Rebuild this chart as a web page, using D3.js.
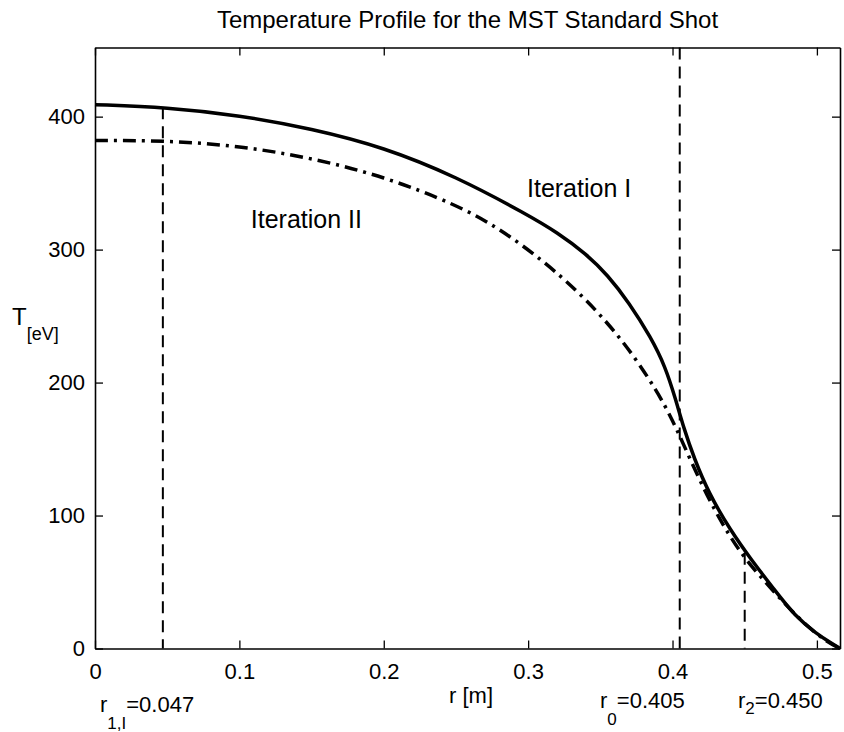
<!DOCTYPE html>
<html>
<head>
<meta charset="utf-8">
<script src="https://cdn.jsdelivr.net/npm/d3@7"></script>
<style>
    body { margin: 0; background: #fff; }
    #chart-area { width: 844px; height: 732px; }
    text { font-family: "Liberation Sans", Arial, Helvetica, sans-serif; fill: #000; }
</style>
</head>
<body>
<div id="chart-area"></div>
<script>
// radius values [m] and temperatures [eV]
const radiusI = [0, 0.05, 0.1, 0.15, 0.2, 0.25, 0.3, 0.32, 0.34, 0.355, 0.37, 0.385, 0.395, 0.402, 0.408, 0.415, 0.425, 0.44, 0.455, 0.47, 0.485, 0.5, 0.51, 0.516];
const tempI   = [409, 407, 401, 391, 377, 355, 326, 313, 297, 281, 260, 234, 212, 188, 165, 143, 117, 89, 66, 45, 24, 11, 4, 0];

const radiusII = [0, 0.05, 0.1, 0.15, 0.2, 0.25, 0.28, 0.31, 0.335, 0.355, 0.372, 0.389, 0.399, 0.407, 0.419, 0.432, 0.448, 0.465, 0.48, 0.495, 0.507, 0.516];
const tempII   = [382, 382, 378, 369, 355, 334, 316, 292, 268, 245, 222, 194, 174, 155, 126, 98, 70, 49, 31, 15, 5, 0];

// vertical marker lines: position and upper end [eV]
const markerR   = [0.047, 0.405, 0.450];
const markerTop = [407, 452, 72];
const markerBase = ["r", "r", "r"];
const markerSub  = ["1,I", "0", "2"];
const markerVal  = ["=0.047", "=0.405", "=0.450"];

const xTicks = [0, 0.1, 0.2, 0.3, 0.4, 0.5];
const yTicks = [0, 100, 200, 300, 400];
const xDomain = [0, 0.516];
const yDomain = [0, 452];

class ProfileVis {

    constructor(parentElement) {
        this.parentElement = parentElement;
        this.initVis();
    }

    initVis() {
        let vis = this;

        vis.margin = {top: 47.5, right: 4, bottom: 83.5, left: 95};
        vis.totalW = 844;
        vis.totalH = 732;
        vis.width = vis.totalW - vis.margin.left - vis.margin.right;
        vis.height = vis.totalH - vis.margin.top - vis.margin.bottom;

        vis.root = d3.select("#" + vis.parentElement).append("svg")
            .attr("width", vis.totalW)
            .attr("height", vis.totalH);

        vis.svg = vis.root.append("g")
            .attr("transform", `translate(${vis.margin.left}, ${vis.margin.top})`);

        vis.x = d3.scaleLinear().domain(xDomain).range([0, vis.width]);
        vis.y = d3.scaleLinear().domain(yDomain).range([vis.height, 0]);

        vis.line = d3.line()
            .x(d => vis.x(d[0]))
            .y(d => vis.y(d[1]))
            .curve(d3.curveBasis);

        vis.updateVis();
    }

    updateVis() {
        let vis = this;
        const tickFmt = d => d === 0 ? "0" : d3.format(".1f")(d);

        // box with inward ticks on all four sides
        const axes = [
            d3.axisBottom(vis.x).tickValues(xTicks).tickFormat(tickFmt).tickSizeInner(-8).tickSizeOuter(0).tickPadding(15),
            d3.axisTop(vis.x).tickValues(xTicks).tickFormat("").tickSizeInner(-8).tickSizeOuter(0),
            d3.axisLeft(vis.y).tickValues(yTicks).tickSizeInner(-8).tickSizeOuter(0).tickPadding(10),
            d3.axisRight(vis.y).tickValues(yTicks).tickFormat("").tickSizeInner(-8).tickSizeOuter(0)
        ];
        const shifts = [`translate(0,${vis.height})`, "translate(0,0)", "translate(0,0)", `translate(${vis.width},0)`];

        axes.forEach((ax, i) => {
            const g = vis.svg.append("g")
                .attr("class", "axis")
                .attr("transform", shifts[i])
                .call(ax);
            g.select(".domain").attr("stroke", "#000").attr("stroke-width", 1.6);
            g.selectAll(".tick line").attr("stroke", "#000").attr("stroke-width", 1.3);
            g.selectAll(".tick text").style("font-size", "22px").attr("fill", "#000");
        });

        // vertical dashed markers
        vis.svg.selectAll(".marker")
            .data(markerR)
            .enter().append("line")
            .attr("class", "marker")
            .attr("x1", d => vis.x(d))
            .attr("x2", d => vis.x(d))
            .attr("y1", (d, i) => vis.y(markerTop[i]))
            .attr("y2", vis.y(0))
            .attr("stroke", "#000")
            .attr("stroke-width", 2)
            .attr("stroke-dasharray", "12,7");

        // Iteration II (dash-dot)
        vis.svg.append("path")
            .datum(d3.zip(radiusII, tempII))
            .attr("d", vis.line)
            .attr("fill", "none")
            .attr("stroke", "#000")
            .attr("stroke-width", 3.5)
            .attr("stroke-dasharray", "13,6,3,6");

        // Iteration I (solid)
        vis.svg.append("path")
            .datum(d3.zip(radiusI, tempI))
            .attr("d", vis.line)
            .attr("fill", "none")
            .attr("stroke", "#000")
            .attr("stroke-width", 3.5);

        // curve labels
        vis.root.append("text")
            .attr("x", 527).attr("y", 197)
            .style("font-size", "25px")
            .text("Iteration I");
        vis.root.append("text")
            .attr("x", 362).attr("y", 228)
            .attr("text-anchor", "end")
            .style("font-size", "25px")
            .text("Iteration II");

        // title
        vis.root.append("text")
            .attr("x", vis.margin.left + vis.width / 2)
            .attr("y", 28)
            .attr("text-anchor", "middle")
            .style("font-size", "24px")
            .text("Temperature Profile for the MST Standard Shot");

        // x label
        vis.root.append("text")
            .attr("x", 471).attr("y", 703)
            .attr("text-anchor", "middle")
            .style("font-size", "22px")
            .text("r [m]");

        // y label T_[eV]
        const yl = vis.root.append("text")
            .attr("x", 12).attr("y", 325)
            .style("font-size", "24px");
        yl.append("tspan").text("T");
        yl.append("tspan").attr("dy", 15).style("font-size", "18px").text("[eV]");

        // marker labels under the axis
        const labX = [100, 600, 738];
        const labY = [712, 708, 708];
        const subDy = [17, 17, 6];
        markerR.forEach((r, i) => {
            const t = vis.root.append("text")
                .attr("x", labX[i]).attr("y", labY[i])
                .style("font-size", "22px");
            t.append("tspan").text(markerBase[i]);
            t.append("tspan").attr("dy", subDy[i]).style("font-size", "17px").text(markerSub[i]);
            t.append("tspan").attr("dy", -subDy[i]).text(markerVal[i]);
        });
    }
}

new ProfileVis("chart-area");
</script>
</body>
</html>
